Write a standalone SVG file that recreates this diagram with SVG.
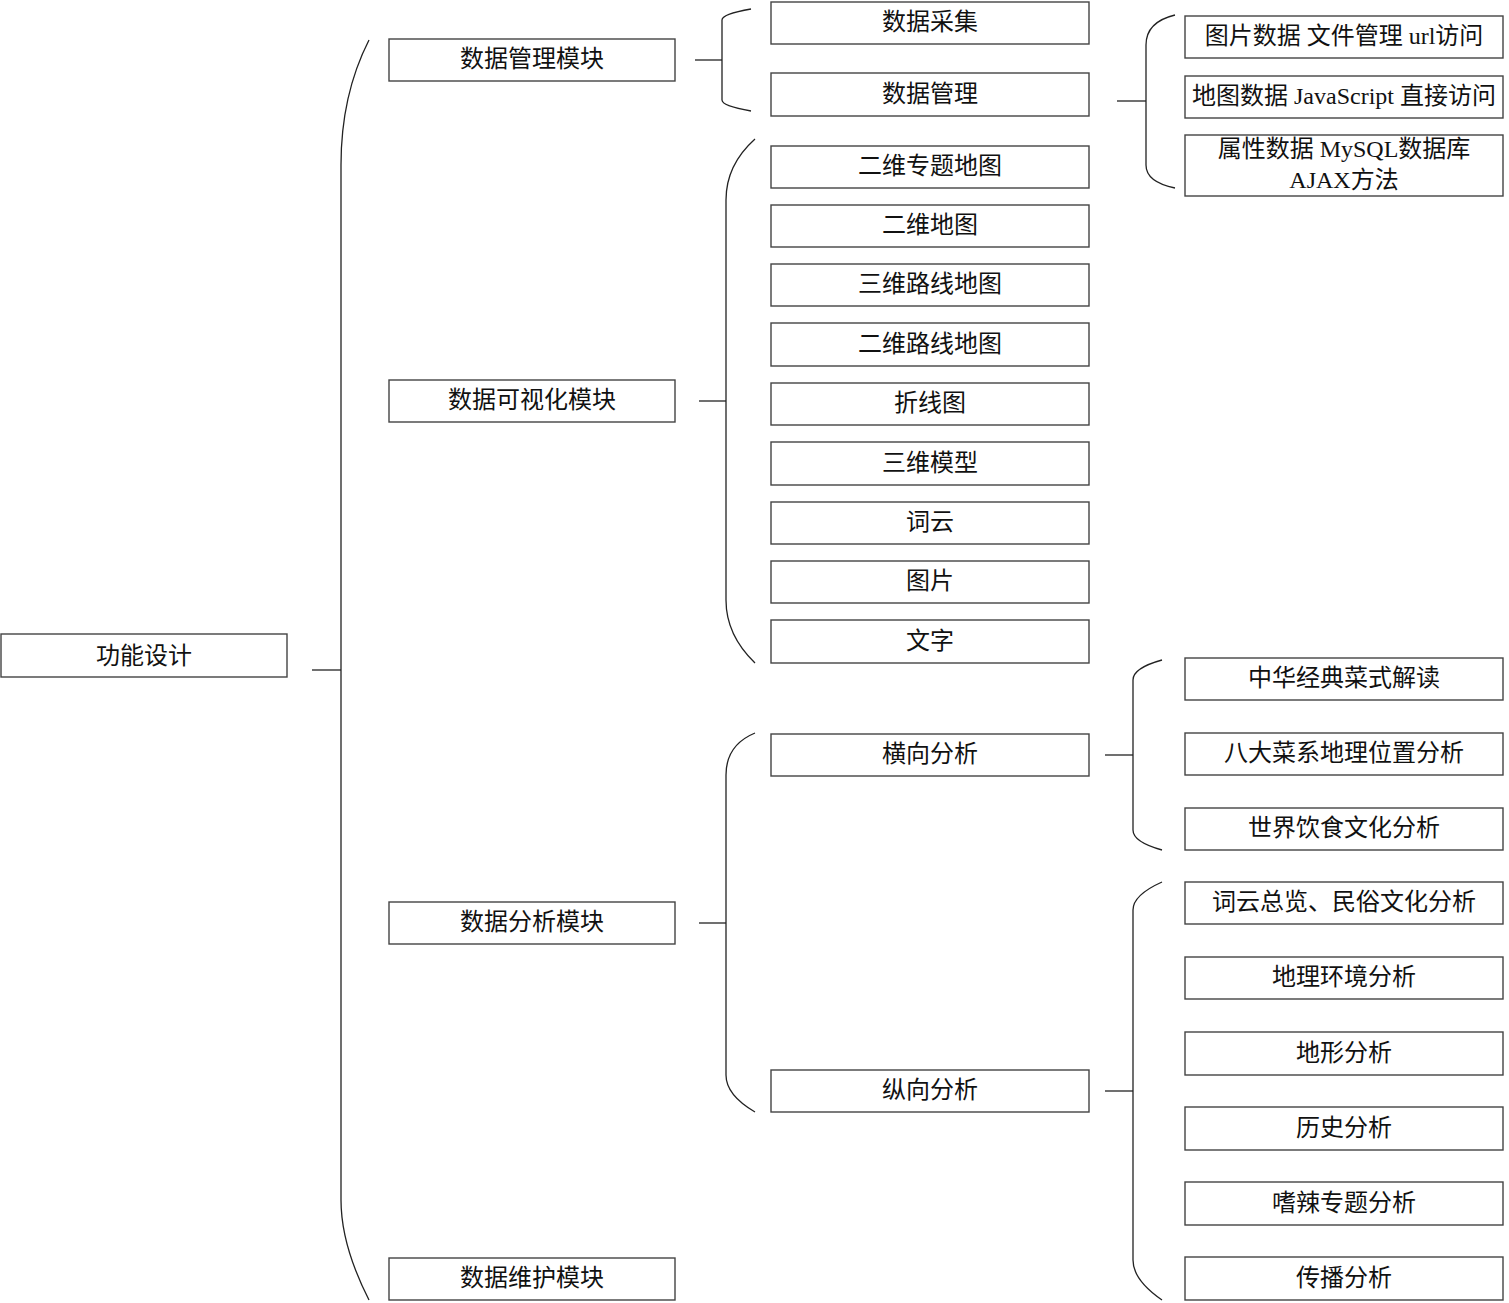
<svg xmlns="http://www.w3.org/2000/svg" width="1509" height="1303" viewBox="0 0 1509 1303">
<style>
rect{fill:#fff;stroke:#444;stroke-width:1.4}
text{font-family:"Liberation Serif","Noto Sans CJK SC",serif;font-size:24px;fill:#111;text-anchor:middle;dominant-baseline:central}
.c{fill:none;stroke:#222;stroke-width:1.3}
</style>
<rect x="0" y="0" width="1509" height="1303" style="fill:#fff;stroke:none"/>
<g id="connectors">
<path class="c" d="M312,670H341"/>
<path class="c" d="M369,40Q341,95 341,165V1200Q341,1245 369,1300"/>
<path class="c" d="M695,60H722"/>
<path class="c" d="M751,9Q722,14 722,20V100Q722,106 751,111"/>
<path class="c" d="M699,401H726"/>
<path class="c" d="M755,139Q726,165 726,200V600Q726,635 755,663"/>
<path class="c" d="M699,923H726"/>
<path class="c" d="M755,733Q726,745 726,775V1075Q726,1095 755,1112"/>
<path class="c" d="M1117,101H1146"/>
<path class="c" d="M1175,15Q1146,22 1146,45V165Q1146,182 1175,188"/>
<path class="c" d="M1105,755H1133"/>
<path class="c" d="M1162,660Q1133,668 1133,680V830Q1133,842 1162,850"/>
<path class="c" d="M1105,1091H1133"/>
<path class="c" d="M1162,882Q1133,895 1133,910V1260Q1133,1280 1162,1300"/>
</g>
<g id="n-root"><rect x="1" y="634" width="286" height="43"/><text x="144" y="655.5">功能设计</text></g>
<g id="n-m1"><rect x="389" y="39" width="286" height="42"/><text x="532" y="59">数据管理模块</text></g>
<g id="n-m2"><rect x="389" y="380" width="286" height="42"/><text x="532" y="400">数据可视化模块</text></g>
<g id="n-m3"><rect x="389" y="902" width="286" height="42"/><text x="532" y="922">数据分析模块</text></g>
<g id="n-m4"><rect x="389" y="1258" width="286" height="42"/><text x="532" y="1278">数据维护模块</text></g>
<g id="n-a1"><rect x="771" y="2" width="318" height="42"/><text x="930" y="22">数据采集</text></g>
<g id="n-a2"><rect x="771" y="73" width="318" height="43"/><text x="930" y="94">数据管理</text></g>
<g id="n-v1"><rect x="771" y="146" width="318" height="42"/><text x="930" y="166">二维专题地图</text></g>
<g id="n-v2"><rect x="771" y="205" width="318" height="42"/><text x="930" y="225">二维地图</text></g>
<g id="n-v3"><rect x="771" y="264" width="318" height="42"/><text x="930" y="284">三维路线地图</text></g>
<g id="n-v4"><rect x="771" y="323" width="318" height="43"/><text x="930" y="344">二维路线地图</text></g>
<g id="n-v5"><rect x="771" y="383" width="318" height="42"/><text x="930" y="403">折线图</text></g>
<g id="n-v6"><rect x="771" y="442" width="318" height="43"/><text x="930" y="463">三维模型</text></g>
<g id="n-v7"><rect x="771" y="502" width="318" height="42"/><text x="930" y="522">词云</text></g>
<g id="n-v8"><rect x="771" y="561" width="318" height="42"/><text x="930" y="581">图片</text></g>
<g id="n-v9"><rect x="771" y="620" width="318" height="43"/><text x="930" y="641">文字</text></g>
<g id="n-h"><rect x="771" y="734" width="318" height="42"/><text x="930" y="754">横向分析</text></g>
<g id="n-z"><rect x="771" y="1070" width="318" height="42"/><text x="930" y="1090">纵向分析</text></g>
<g id="n-d1"><rect x="1185" y="16" width="318" height="42"/><text x="1344" y="36">图片数据 文件管理 url访问</text></g>
<g id="n-d2"><rect x="1185" y="76" width="318" height="42"/><text x="1344" y="96">地图数据 JavaScript 直接访问</text></g>
<g id="n-d3"><rect x="1185" y="135" width="318" height="61"/><text x="1344" y="149">属性数据 MySQL数据库</text><text x="1344" y="180">AJAX方法</text></g>
<g id="n-h1"><rect x="1185" y="658" width="318" height="42"/><text x="1344" y="678">中华经典菜式解读</text></g>
<g id="n-h2"><rect x="1185" y="733" width="318" height="42"/><text x="1344" y="753">八大菜系地理位置分析</text></g>
<g id="n-h3"><rect x="1185" y="808" width="318" height="42"/><text x="1344" y="828">世界饮食文化分析</text></g>
<g id="n-z1"><rect x="1185" y="882" width="318" height="42"/><text x="1344" y="902">词云总览、民俗文化分析</text></g>
<g id="n-z2"><rect x="1185" y="957" width="318" height="42"/><text x="1344" y="977">地理环境分析</text></g>
<g id="n-z3"><rect x="1185" y="1032" width="318" height="43"/><text x="1344" y="1053">地形分析</text></g>
<g id="n-z4"><rect x="1185" y="1107" width="318" height="43"/><text x="1344" y="1128">历史分析</text></g>
<g id="n-z5"><rect x="1185" y="1182" width="318" height="43"/><text x="1344" y="1203">嗜辣专题分析</text></g>
<g id="n-z6"><rect x="1185" y="1257" width="318" height="43"/><text x="1344" y="1278">传播分析</text></g>
</svg>
